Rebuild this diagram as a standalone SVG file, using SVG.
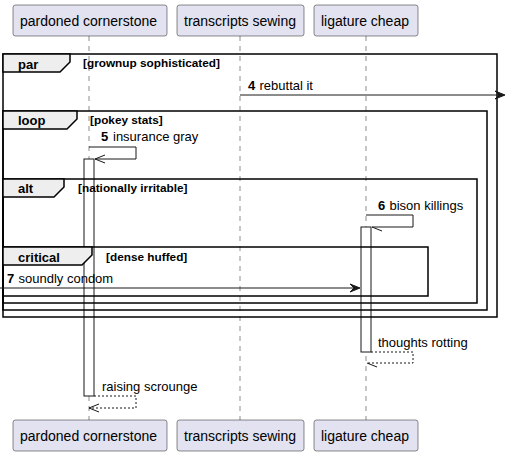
<svg xmlns="http://www.w3.org/2000/svg" width="506" height="456" viewBox="0 0 506 456">
<style>
.box{fill:#E2E2F0;stroke:#181818;stroke-width:0.5}
.pt{font-family:"Liberation Sans",Arial,sans-serif;font-size:14px;fill:#000}
.life{stroke:#181818;stroke-width:0.5;stroke-dasharray:5,5;fill:none}
.frame{fill:none;stroke:#000;stroke-width:1.5}
.tab{fill:#EEEEEE;stroke:#000;stroke-width:1.5}
.fl{font-family:"Liberation Sans",Arial,sans-serif;font-size:13px;font-weight:bold;fill:#000}
.gd{font-family:"Liberation Sans",Arial,sans-serif;font-size:11.8px;font-weight:bold;fill:#000}
.mt{font-family:"Liberation Sans",Arial,sans-serif;font-size:13px;fill:#000}
.mn{font-family:"Liberation Sans",Arial,sans-serif;font-size:13px;font-weight:bold;fill:#000}
.ln{stroke:#181818;stroke-width:1;fill:none}
.ds{stroke:#181818;stroke-width:1;fill:none;stroke-dasharray:2,2}
.act{fill:#FFFFFF;stroke:#181818;stroke-width:1}
.ah{fill:#181818;stroke:#181818;stroke-width:1}
</style>
<g id="lifelines">
<line class="life" x1="89" y1="36" x2="89" y2="420"/>
<line class="life" x1="240" y1="36" x2="240" y2="420"/>
<line class="life" x1="366" y1="36" x2="366" y2="420"/>
</g>
<g id="activations">
<rect class="act" x="84" y="159" width="10" height="237"/>
<rect class="act" x="361" y="227" width="10" height="125"/>
</g>
<g id="participant-pardoned-top">
<rect class="box" x="13" y="5" width="154" height="31" rx="2.5"/>
<text class="pt" x="20" y="26">pardoned cornerstone</text>
</g>
<g id="participant-transcripts-top">
<rect class="box" x="177" y="5" width="127" height="31" rx="2.5"/>
<text class="pt" x="184" y="26">transcripts sewing</text>
</g>
<g id="participant-ligature-top">
<rect class="box" x="314" y="5" width="104" height="31" rx="2.5"/>
<text class="pt" x="321" y="26">ligature cheap</text>
</g>
<g id="participant-pardoned-bottom">
<rect class="box" x="13" y="420" width="154" height="31" rx="2.5"/>
<text class="pt" x="20" y="441">pardoned cornerstone</text>
</g>
<g id="participant-transcripts-bottom">
<rect class="box" x="177" y="420" width="127" height="31" rx="2.5"/>
<text class="pt" x="184" y="441">transcripts sewing</text>
</g>
<g id="participant-ligature-bottom">
<rect class="box" x="314" y="420" width="104" height="31" rx="2.5"/>
<text class="pt" x="321" y="441">ligature cheap</text>
</g>
<g id="frame-par">
<rect class="frame" x="3" y="54" width="494" height="263"/>
<polygon class="tab" points="3,54 70,54 70,62 60,72 3,72"/>
<text class="fl" x="18" y="69">par</text>
<text class="gd" x="83" y="67">[grownup sophisticated]</text>
</g>
<g id="frame-loop">
<rect class="frame" x="3" y="111" width="484" height="199"/>
<polygon class="tab" points="3,111 77,111 77,119 67,129 3,129"/>
<text class="fl" x="18" y="125">loop</text>
<text class="gd" x="90" y="124">[pokey stats]</text>
</g>
<g id="frame-alt">
<rect class="frame" x="3" y="179" width="474" height="124"/>
<polygon class="tab" points="3,179 64,179 64,187 54,197 3,197"/>
<text class="fl" x="18" y="193">alt</text>
<text class="gd" x="78" y="192">[nationally irritable]</text>
</g>
<g id="frame-critical">
<rect class="frame" x="3" y="247" width="425" height="49"/>
<polygon class="tab" points="3,247 92,247 92,255 82,265 3,265"/>
<text class="fl" x="18" y="262">critical</text>
<text class="gd" x="106" y="261">[dense huffed]</text>
</g>
<g id="connectors">
<line class="ln" x1="240" y1="95" x2="504" y2="95"/>
<polygon class="ah" points="495,91 505,95 495,99 499,95"/>
<text class="mn" x="248" y="90">4</text>
<text class="mt" x="259.5" y="90">rebuttal it</text>

<polyline class="ln" points="89,147 136,147 136,159 95,159"/>
<polyline class="ln" points="105,155 95,159 105,163"/>
<text class="mn" x="101" y="141">5</text>
<text class="mt" x="113" y="141">insurance gray</text>

<polyline class="ln" points="366,215 413,215 413,227 372,227"/>
<line class="ln" x1="372" y1="227" x2="382" y2="231"/>
<text class="mn" x="378" y="210">6</text>
<text class="mt" x="389.5" y="210">bison killings</text>

<line class="ln" x1="0" y1="288" x2="358" y2="288"/>
<polygon class="ah" points="350,284 360,288 350,292 354,288"/>
<text class="mn" x="7" y="283">7</text>
<text class="mt" x="18.5" y="283">soundly condom</text>

<polyline class="ds" points="371,352 413,352 413,363 366,363"/>
<line class="ln" x1="367" y1="363" x2="377" y2="367"/>
<text class="mt" x="378" y="347">thoughts rotting</text>

<polyline class="ds" points="94,396 136,396 136,408 89,408"/>
<polyline class="ln" points="99,404 89,408 99,412"/>
<text class="mt" x="102" y="391">raising scrounge</text>
</g>
</svg>
